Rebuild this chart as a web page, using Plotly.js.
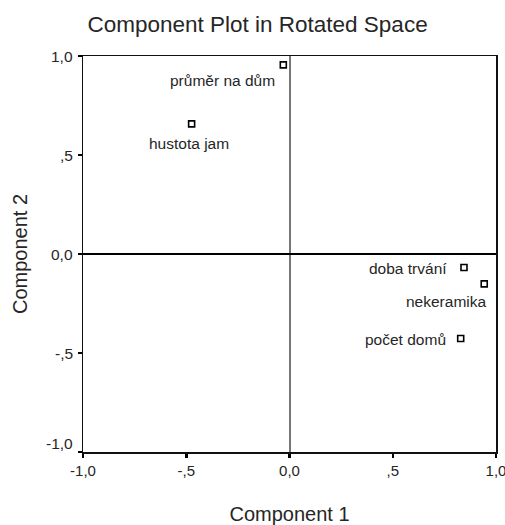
<!DOCTYPE html>
<html><head><meta charset="utf-8">
<script src="https://cdn.plot.ly/plotly-3.0.1.min.js"></script>
<style>html,body{margin:0;padding:0;background:#fff}#c{width:505px;height:525px}</style>
</head><body><div id="c"></div>
<script>
// data
const labels = ["průměr na dům", "hustota jam", "doba trvání", "nekeramika", "počet domů"];
const comp1 = [-0.03, -0.474, 0.845, 0.943, 0.829];
const comp2 = [0.955, 0.657, -0.068, -0.151, -0.427];
const tickVals = [-1, -0.5, 0, 0.5, 1];
const tickText = ["-1,0", "-,5", "0,0", ",5", "1,0"];

// label placement (styling, px offsets from the marker)
const labelAnchor = ["right", "center", "right", "right", "right"];
const labelDx = [-6, -3, -15, 4, -13];
const labelDy = [-16, -20, -1, -18, -1];
const yTickDy = [9, 0, 0, 0, 0];

const FF = "Liberation Sans, Arial, sans-serif";
const TXT = "#262626";

const trace = {
  x: comp1, y: comp2, mode: "markers", type: "scatter",
  marker: {symbol: "square-open", size: 6, color: "#000", line: {width: 1.6, color: "#000"}},
  hoverinfo: "none", cliponaxis: false
};

const annotations = labels.map((t, i) => ({
  text: t, x: comp1[i], y: comp2[i], xref: "x", yref: "y",
  xanchor: labelAnchor[i], yanchor: "middle", xshift: labelDx[i], yshift: labelDy[i],
  showarrow: false, font: {family: FF, size: 15.5, color: TXT}
})).concat(tickVals.map((v, i) => ({
  text: tickText[i], x: 0, y: v, xref: "paper", yref: "y",
  xanchor: "right", yanchor: "middle", xshift: -8, yshift: yTickDy[i],
  showarrow: false, font: {family: FF, size: 15.5, color: TXT}
})));

const axisBase = {
  range: [-1, 1], tickvals: tickVals, ticktext: tickText,
  showgrid: false, showline: true, mirror: true, linecolor: "#111", linewidth: 1.5,
  ticks: "outside", ticklen: 4, tickcolor: "#000", tickwidth: 2.5,
  tickfont: {family: FF, size: 15, color: TXT},
  zeroline: true, fixedrange: true
};
const layout = {
  width: 505, height: 525,
  margin: {l: 83, r: 9, t: 56, b: 73},
  paper_bgcolor: "#fff", plot_bgcolor: "#fff",
  showlegend: false,
  title: {text: "Component Plot in Rotated Space", font: {family: FF, size: 22.5, color: TXT},
          x: 0.51, xanchor: "center", y: 1 - 24/525, yanchor: "middle"},
  xaxis: Object.assign({}, axisBase, {
    ticklabelshift: -2.5, ticklabeloverflow: "allow",
    zerolinecolor: "#777", zerolinewidth: 2,
    title: {text: "Component 1", font: {family: FF, size: 20, color: TXT}, standoff: 30}
  }),
  yaxis: Object.assign({}, axisBase, {
    showticklabels: false,
    zerolinecolor: "#000", zerolinewidth: 1.5,
    title: {text: "Component 2", font: {family: FF, size: 20, color: TXT}, standoff: 44}
  }),
  annotations: annotations
};
Plotly.newPlot("c", [trace], layout, {displayModeBar: false, staticPlot: true});
</script></body></html>
